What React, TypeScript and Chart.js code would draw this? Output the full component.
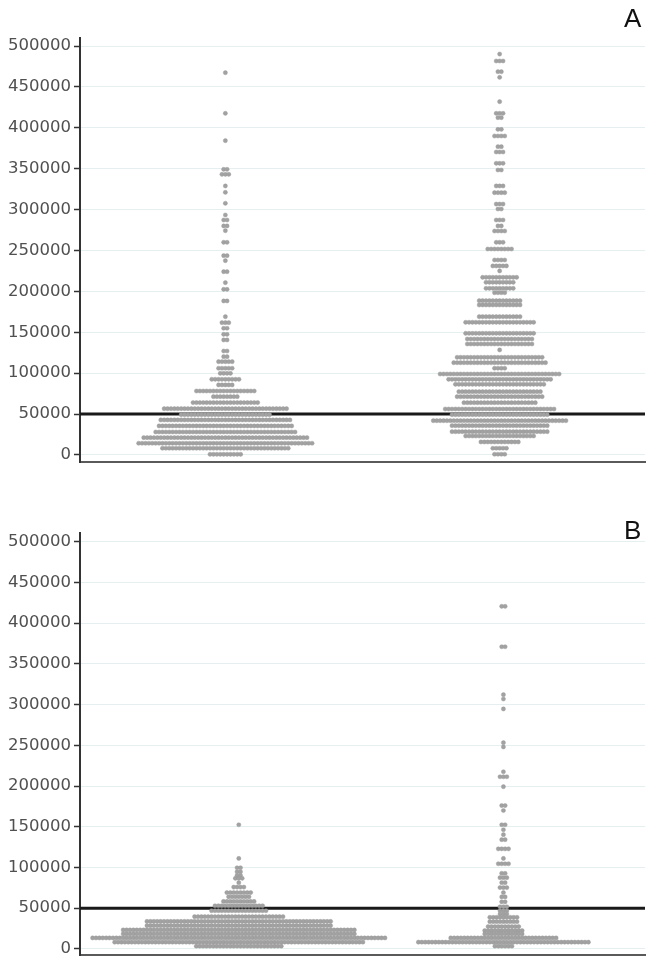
import React, { useEffect, useRef } from "react";
import { Chart, registerables } from "chart.js";

Chart.register(...registerables);

// ---------- data ----------
const Y_TICKS = [0, 50000, 100000, 150000, 200000, 250000, 300000, 350000, 400000, 450000, 500000];
const THRESHOLD = 50000;
const GROUP_POSITIONS = [1, 2];
const PANEL_LABELS = ["A", "B"];

// Panel A, group 1: bin value and number of dots stacked in that bin
const A1_VALUES = [467400, 417700, 384300, 349200, 343100, 328900, 321100, 307700, 293400, 287300, 280000, 274200, 260000, 243700, 237600, 224100, 210700, 202500, 188300, 169100, 161800, 154900, 147500, 140600, 127100, 120200, 114100, 106000, 99800, 92500, 85600, 78200, 71300, 64000, 56600, 49300, 42800, 35500, 28100, 21200, 14300, 8200, 800];
const A1_COUNTS = [1, 1, 1, 2, 3, 1, 1, 1, 1, 2, 2, 1, 2, 2, 1, 2, 1, 2, 2, 1, 3, 2, 2, 2, 2, 2, 5, 5, 4, 9, 5, 18, 8, 20, 37, 27, 39, 40, 42, 49, 52, 38, 10];

// Panel A, group 2
const A2_VALUES = [490200, 481700, 468600, 461700, 432000, 417700, 412400, 398100, 390000, 376900, 370400, 356600, 348400, 328900, 320700, 306800, 300700, 287300, 280000, 273800, 260000, 251800, 238400, 231100, 225000, 217200, 211100, 203700, 198400, 188600, 183400, 169100, 162200, 148700, 141800, 135700, 128400, 119400, 112800, 106000, 99000, 92500, 86400, 77400, 71300, 63900, 56200, 49300, 41900, 35800, 28500, 23200, 15900, 8200, 900];
const A2_COUNTS = [1, 3, 2, 1, 1, 3, 2, 2, 4, 2, 3, 3, 2, 3, 4, 3, 2, 3, 2, 4, 3, 8, 4, 5, 1, 11, 9, 9, 4, 13, 13, 13, 21, 21, 20, 20, 1, 26, 28, 4, 36, 31, 27, 25, 26, 22, 33, 29, 40, 29, 29, 21, 12, 5, 4];

// Panel B, group 1
const B1_VALUES = [152400, 111000, 99600, 94700, 90200, 86600, 81300, 75800, 69100, 63900, 58200, 52900, 46800, 39500, 33700, 28500, 23200, 18300, 13400, 8200, 3300];
const B1_COUNTS = [1, 1, 2, 2, 2, 3, 1, 4, 8, 7, 10, 15, 17, 27, 55, 55, 69, 69, 87, 74, 26];

// Panel B, group 2
const B2_VALUES = [420700, 371100, 312200, 306900, 294700, 253200, 248000, 217500, 211400, 199200, 176000, 169900, 152400, 146300, 140200, 134100, 122800, 111000, 104500, 92700, 87400, 81300, 75200, 69100, 63800, 57700, 51600, 46800, 42700, 38700, 33400, 27300, 22400, 18300, 13400, 8200, 3300];
const B2_COUNTS = [2, 2, 1, 1, 1, 1, 1, 1, 3, 1, 2, 1, 2, 1, 1, 2, 4, 1, 4, 2, 3, 2, 3, 1, 2, 2, 3, 3, 3, 9, 9, 10, 12, 12, 32, 51, 6];

// ---------- layout / style ----------
const W = 653;
const PLOT_LEFT = 80;
const PLOT_RIGHT = 645;
const DOT_STEP_PX = 3.4;
const DOT_RADIUS = 2.1;
const DOT_COLOR = "#a2a2a2";

type Panel = {
  label: string;
  top: number;
  height: number;
  padTop: number;
  padBottom: number;
  xMin: number;
  xMax: number;
  yMin: number;
  yMax: number;
  groups: { values: number[]; counts: number[] }[];
  labelTop: number;
};

const PANELS: Panel[] = [
  {
    label: PANEL_LABELS[0],
    top: 0,
    height: 480,
    padTop: 38,
    padBottom: 18,
    xMin: 0.47,
    xMax: 2.53,
    yMin: -8600,
    yMax: 509800,
    groups: [
      { values: A1_VALUES, counts: A1_COUNTS },
      { values: A2_VALUES, counts: A2_COUNTS },
    ],
    labelTop: 3,
  },
  {
    label: PANEL_LABELS[1],
    top: 490,
    height: 478,
    padTop: 43,
    padBottom: 10,
    xMin: 0.4,
    xMax: 2.535,
    yMin: -7700,
    yMax: 510800,
    groups: [
      { values: B1_VALUES, counts: B1_COUNTS },
      { values: B2_VALUES, counts: B2_COUNTS },
    ],
    labelTop: 515,
  },
];

function swarm(values: number[], counts: number[], center: number, step: number) {
  const pts: { x: number; y: number }[] = [];
  values.forEach((v, r) => {
    const n = counts[r];
    for (let i = 0; i < n; i++) {
      pts.push({ x: center + (i - (n - 1) / 2) * step, y: v });
    }
  });
  return pts;
}

function PanelChart({ p }: { p: Panel }) {
  const ref = useRef<HTMLCanvasElement | null>(null);
  useEffect(() => {
    if (!ref.current) return;
    const pxPerUnit = (PLOT_RIGHT - PLOT_LEFT) / (p.xMax - p.xMin);
    const step = DOT_STEP_PX / pxPerUnit;
    const points = p.groups.flatMap((g, gi) => swarm(g.values, g.counts, GROUP_POSITIONS[gi], step));
    const chart = new Chart(ref.current, {
      type: "scatter",
      data: {
        datasets: [
          {
            data: points,
            pointRadius: DOT_RADIUS,
            pointHoverRadius: DOT_RADIUS,
            backgroundColor: DOT_COLOR,
            borderColor: "#979797",
            pointBorderWidth: 0.4,
            order: 0,
          } as any,
          {
            data: [
              { x: p.xMin, y: THRESHOLD },
              { x: p.xMax, y: THRESHOLD },
            ],
            showLine: true,
            borderColor: "#1a1a1a",
            borderWidth: 3,
            pointRadius: 0,
            order: 1,
          } as any,
        ],
      },
      options: {
        animation: false,
        responsive: false,
        maintainAspectRatio: false,
        devicePixelRatio: 1,
        layout: { padding: { top: p.padTop, bottom: p.padBottom, left: 0, right: W - PLOT_RIGHT } },
        plugins: { legend: { display: false }, tooltip: { enabled: false }, title: { display: false } },
        scales: {
          x: {
            type: "linear",
            min: p.xMin,
            max: p.xMax,
            ticks: { display: false },
            grid: { display: false, drawTicks: false },
            border: { display: true, color: "#5a5a5a", width: 2 },
            afterFit: (s: any) => {
              s.height = 0;
            },
          },
          y: {
            type: "linear",
            min: p.yMin,
            max: p.yMax,
            afterBuildTicks: (s: any) => {
              s.ticks = Y_TICKS.map((v) => ({ value: v }));
            },
            afterFit: (s: any) => {
              s.width = PLOT_LEFT;
            },
            ticks: {
              callback: (v: any) => String(v),
              font: { family: "DejaVu Sans", size: 16.5 },
              color: "#505050",
              padding: 3,
            },
            grid: {
              color: "#e6efef",
              lineWidth: 1,
              drawTicks: true,
              tickLength: 6,
              tickColor: "#333333",
              tickWidth: 1.5,
            },
            border: { display: true, color: "#333333", width: 2 },
          },
        },
      } as any,
    });
    return () => chart.destroy();
  }, [p]);
  return (
    <canvas
      ref={ref}
      width={W}
      height={p.height}
      style={{ position: "absolute", left: 0, top: p.top, width: W, height: p.height }}
    />
  );
}

export default function App() {
  return (
    <div style={{ position: "absolute", left: 0, top: 0, width: W, height: 968, background: "#ffffff" }}>
      {PANELS.map((p) => (
        <React.Fragment key={p.label}>
          <PanelChart p={p} />
          <div
            style={{
              position: "absolute",
              left: 624,
              top: p.labelTop,
              fontFamily: "Liberation Sans, Arial, sans-serif",
              fontSize: 26,
              color: "#111",
              lineHeight: "30px",
            }}
          >
            {p.label}
          </div>
        </React.Fragment>
      ))}
    </div>
  );
}
